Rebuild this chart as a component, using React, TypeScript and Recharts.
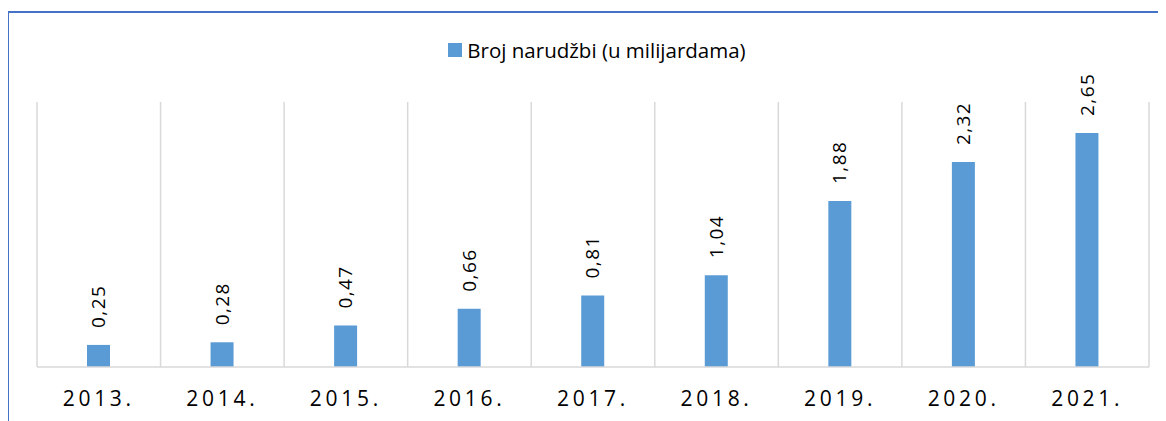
import React from 'react';
import { BarChart, Bar, XAxis, YAxis, CartesianGrid, Legend, LabelList } from 'recharts';

const years = ['2013.', '2014.', '2015.', '2016.', '2017.', '2018.', '2019.', '2020.', '2021.'];
const orders = [0.25, 0.28, 0.47, 0.66, 0.81, 1.04, 1.88, 2.32, 2.65];
const seriesName = 'Broj narudžbi (u milijardama)';
const yDomain: [number, number] = [0, 3];

const data = years.map((y, i) => ({ year: y, value: orders[i] }));

const FONT = '"Open Sans", "Noto Sans", sans-serif';
const BAR_COLOR = '#5B9BD5';
const GRID_COLOR = '#D9D9D9';

const CategoryTick = (props: any) => {
  const { x, y, payload } = props;
  return (
    <text x={x} y={y} dy={39} textAnchor="middle" fontSize={21} letterSpacing={3.7} fill="#000" fontFamily={FONT}>
      {payload.value}
    </text>
  );
};

const ValueLabel = (props: any) => {
  const { x, y, width, value } = props;
  const cx = Number(x) + Number(width) / 2;
  const by = Number(y) - 17;
  const txt = Number(value).toFixed(2).replace('.', ',');
  return (
    <text
      transform={`translate(${cx},${by}) rotate(-90)`}
      textAnchor="start"
      dy="0.35em"
      fontSize={19}
      letterSpacing={1.4}
      fill="#000"
      fontFamily={FONT}
    >
      {txt}
    </text>
  );
};

const LegendContent = () => (
  <div style={{ display: 'flex', justifyContent: 'center', alignItems: 'center', paddingLeft: 20, fontFamily: FONT }}>
    <span style={{ display: 'inline-block', width: 14, height: 14, background: BAR_COLOR, marginRight: 5 }} />
    <span style={{ fontSize: 20.5, color: '#000', lineHeight: '28px' }}>{seriesName}</span>
  </div>
);

export default function App() {
  return (
    <div style={{ position: 'relative', width: 1158, height: 413, fontFamily: FONT }}>
      <div
        style={{
          position: 'absolute',
          left: -1,
          top: 3,
          right: 0,
          bottom: 0,
          borderLeft: '2px solid #4472C4',
          borderTop: '2px solid #4472C4',
          pointerEvents: 'none',
        }}
      />
      <BarChart width={1158} height={413} data={data} margin={{ top: 94, right: 17, bottom: 24, left: 29 }}>
        <CartesianGrid
          horizontal={false}
          stroke={GRID_COLOR}
          strokeWidth={1.5}
          verticalCoordinatesGenerator={({ offset }: any) =>
            Array.from({ length: years.length + 1 }, (_, i) => offset.left + (i * offset.width) / years.length)
          }
        />
        <XAxis
          dataKey="year"
          axisLine={{ stroke: GRID_COLOR, strokeWidth: 1.5 }}
          tickLine={false}
          tickSize={0}
          tickMargin={0}
          height={30}
          tick={<CategoryTick />}
          interval={0}
        />
        <YAxis hide domain={yDomain} />
        <Legend
          verticalAlign="middle"
          layout="horizontal"
          wrapperStyle={{ top: 28, left: 0, width: 1158 }}
          content={<LegendContent />}
        />
        <Bar dataKey="value" name={seriesName} fill={BAR_COLOR} barSize={23} isAnimationActive={false}>
          <LabelList dataKey="value" content={<ValueLabel />} />
        </Bar>
      </BarChart>
    </div>
  );
}
